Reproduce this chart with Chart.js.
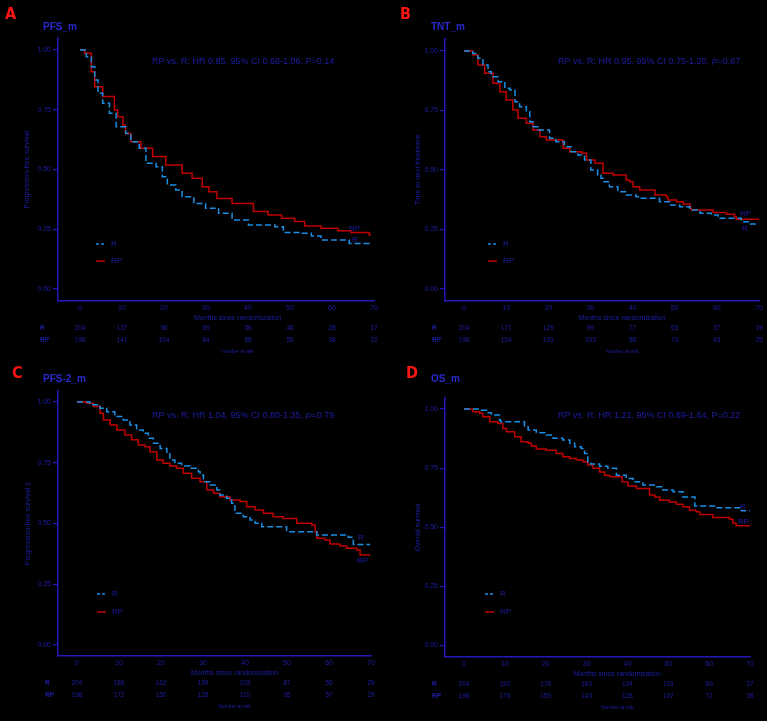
<!DOCTYPE html>
<html><head><meta charset="utf-8">
<script src="https://cdn.jsdelivr.net/npm/chart.js@4.4.1/dist/chart.umd.min.js"></script>
<style>
html,body{margin:0;padding:0;background:#000;width:767px;height:721px;overflow:hidden}
canvas{position:absolute;left:0;top:0}
.lbl{position:absolute;white-space:nowrap}
.letter{font:bold 16px/16px "Liberation Sans Narrow","DejaVu Sans Condensed",sans-serif;color:#ff1414}
.ttl{font:bold 10px/10px "Liberation Sans",Arial,sans-serif;color:#2a2acc}
</style></head><body>
<canvas id="c0" width="767" height="721"></canvas>
<canvas id="c1" width="767" height="721"></canvas>
<canvas id="c2" width="767" height="721"></canvas>
<canvas id="c3" width="767" height="721"></canvas>
<div class="lbl letter" style="left:5px;top:6px">A</div>
<div class="lbl letter" style="left:400px;top:6px">B</div>
<div class="lbl letter" style="left:12px;top:365px">C</div>
<div class="lbl letter" style="left:406px;top:365px">D</div>
<div class="lbl ttl" style="left:43px;top:22px">PFS_m</div>
<div class="lbl ttl" style="left:431px;top:22px">TNT_m</div>
<div class="lbl ttl" style="left:43px;top:374px">PFS-2_m</div>
<div class="lbl ttl" style="left:431px;top:374px">OS_m</div>
<script>
// ---------- data ----------
const XT = [0, 10, 20, 30, 40, 50, 60, 70];
const YT = [0, 0.25, 0.5, 0.75, 1];

// A: PFS
const A_R_t  = [0,1.5,2.7,3.5,4.3,5.4,7.0,8.6,10.9,12.1,14.1,15.7,18.1,19.6,20.8,22.8,24.3,27.1,29.9,33.0,36.2,40.1,46.4,48.4,52.7,55.1,57.4,64.1,69.3];
const A_R_s  = [1,0.972,0.930,0.874,0.819,0.777,0.735,0.679,0.651,0.616,0.589,0.526,0.512,0.470,0.435,0.414,0.386,0.358,0.338,0.317,0.289,0.268,0.261,0.237,0.233,0.222,0.205,0.191,0.186];
const A_RP_t = [0,1.1,2.7,3.5,5.4,8.2,9.0,10.2,10.8,12.1,14.5,17.3,20.4,24.3,26.7,29.1,30.7,32.6,36.2,41.3,44.8,48.0,51.1,53.5,57.4,61.4,64.5,68.9,69.3];
const A_RP_s = [1,0.986,0.909,0.846,0.805,0.749,0.721,0.686,0.651,0.616,0.589,0.554,0.519,0.484,0.463,0.428,0.407,0.379,0.358,0.324,0.310,0.296,0.282,0.264,0.254,0.244,0.236,0.226,0.226];
const A_risk_R  = [204,137,96,69,56,46,28,17];
const A_risk_RP = [198,141,104,84,68,55,38,22];

// B: TNT
const B_R_t  = [0,2.1,3.3,4.5,5.7,6.5,8.1,9.7,10.9,12.1,13.2,14.8,15.6,16.4,17.6,20.3,21.8,23.8,25.4,27.0,28.6,30.1,31.7,32.5,33.0,34.5,36.5,38.5,40.8,41.7,46.4,48.8,51.2,53.6,56.0,58.7,60.3,65.8,67.8,70];
const B_R_s  = [1,0.989,0.969,0.941,0.913,0.892,0.871,0.843,0.836,0.787,0.766,0.745,0.703,0.682,0.668,0.633,0.619,0.598,0.577,0.563,0.542,0.500,0.479,0.465,0.451,0.430,0.409,0.395,0.388,0.381,0.367,0.353,0.346,0.332,0.318,0.311,0.297,0.283,0.273,0.273];
const B_RP_t = [0,2.1,3.3,4.9,6.9,8.5,10.0,11.6,12.8,14.8,16.4,18.0,19.5,23.5,25.1,27.9,29.1,31.1,33.0,35.4,38.5,39.3,40.1,41.7,45.3,48.0,48.4,50.4,52.0,53.6,54.0,59.1,62.3,64.2,64.6,70];
const B_RP_s = [1,0.983,0.941,0.906,0.864,0.829,0.794,0.752,0.717,0.696,0.668,0.640,0.626,0.591,0.577,0.570,0.542,0.528,0.486,0.479,0.458,0.451,0.430,0.416,0.395,0.388,0.374,0.367,0.357,0.339,0.332,0.322,0.314,0.304,0.293,0.293];
const B_risk_R  = [204,171,129,99,77,65,37,19];
const B_risk_RP = [198,154,123,103,88,70,43,25];

// C: PFS-2
const C_R_t  = [0,3.1,5.5,7.1,9.0,11.0,12.6,14.2,15.8,17.0,18.2,19.8,21.4,22.1,23.3,24.9,26.9,28.9,29.3,30.1,31.7,33.3,34.0,35.6,36.8,37.6,39.6,41.2,42.4,44.0,49.9,57.1,64.6,65.8,69.8];
const C_R_s  = [1,0.988,0.974,0.960,0.940,0.926,0.905,0.885,0.871,0.851,0.830,0.809,0.789,0.761,0.748,0.737,0.727,0.713,0.700,0.672,0.658,0.638,0.617,0.604,0.583,0.542,0.528,0.514,0.501,0.487,0.466,0.453,0.443,0.414,0.414];
const C_RP_t = [0,2.3,3.9,5.5,6.3,7.9,9.5,11.4,13.0,14.6,16.2,17.4,19.0,20.5,22.1,23.7,25.3,27.3,29.3,30.9,32.5,34.0,36.4,38.8,40.4,42.4,44.4,46.7,49.1,52.3,55.9,56.7,57.1,59.0,60.2,62.6,64.2,66.6,67.4,69.8];
const C_RP_s = [1,0.995,0.981,0.953,0.926,0.905,0.885,0.864,0.844,0.823,0.816,0.795,0.761,0.748,0.737,0.727,0.707,0.686,0.672,0.638,0.624,0.610,0.597,0.590,0.569,0.556,0.542,0.528,0.521,0.501,0.494,0.466,0.439,0.432,0.416,0.407,0.398,0.391,0.370,0.370];
const C_risk_R  = [204,189,162,139,103,87,55,29];
const C_risk_RP = [198,172,150,128,110,95,57,29];

// D: OS
const D_R_t  = [0,3.8,5.5,6.7,8.7,9.0,14.8,15.7,17.7,20.1,21.8,24.2,25.9,27.1,28.7,29.5,30.3,31.0,33.2,35.2,37.3,39.7,41.4,43.8,47.1,48.7,51.2,53.6,56.5,61.7,67.9,70];
const D_R_s  = [1,0.995,0.985,0.975,0.953,0.946,0.925,0.911,0.900,0.890,0.876,0.869,0.855,0.840,0.833,0.812,0.777,0.767,0.758,0.749,0.720,0.706,0.692,0.678,0.671,0.657,0.650,0.628,0.590,0.582,0.569,0.569];
const D_RP_t = [0,2.2,3.8,4.6,6.3,8.3,9.5,10.4,12.4,14.0,15.7,16.5,17.7,20.1,22.6,24.2,25.9,27.5,29.1,30.3,31.6,33.2,34.4,35.7,38.7,40.1,42.2,45.4,46.7,47.9,50.3,52.0,53.6,55.2,56.8,57.7,60.9,65.0,65.8,66.6,70];
const D_RP_s = [1,0.989,0.982,0.968,0.946,0.939,0.918,0.904,0.883,0.862,0.855,0.844,0.831,0.826,0.812,0.798,0.791,0.784,0.777,0.763,0.749,0.734,0.720,0.713,0.692,0.674,0.664,0.636,0.628,0.614,0.607,0.597,0.586,0.572,0.565,0.554,0.541,0.533,0.516,0.506,0.506];
const D_risk_R  = [204,192,176,160,134,113,89,37];
const D_risk_RP = [198,178,159,143,128,107,72,38];

// ---------- style ----------
const TXT = '#1e1ea6';
const AX = '#2418b8';
const BLUE = '#1a8fe6';
const RED = '#c00000';
const FF = '"Liberation Sans", Arial, sans-serif';

const panels = [
  {id:'c0', Rt:A_R_t, Rs:A_R_s, Pt:A_RP_t, Ps:A_RP_s, riskR:A_risk_R, riskP:A_risk_RP,
   ytitle:'Progression-free survival', box:{l:58,r:374,t:38,b:301}, xmin:-5.24, ymin:-0.05, ymax:1.05, ytPad:4.8,
   ann:{x:152,y:62,seg:[['RP vs. R: HR 0.85, 95% CI 0.68-1.06, P=0.14',false]]},
   leg:{x:96,y:244,dy:17}, endR:{x:352,y:240}, endP:{x:349,y:229}, rowX:40},
  {id:'c1', Rt:B_R_t, Rs:B_R_s, Pt:B_RP_t, Ps:B_RP_s, riskR:B_risk_R, riskP:B_risk_RP,
   ytitle:'Time to next treatment', box:{l:445,r:759,t:39,b:301}, xmin:-4.51, ymin:-0.05, ymax:1.05, ytPad:8.8,
   ann:{x:558,y:62,seg:[['RP vs. R: HR 0.95, 95% CI 0.75-1.20, ',false],['P',true],['=0.67',false]]},
   leg:{x:488,y:244,dy:17}, endR:{x:742,y:229}, endP:{x:740,y:214}, rowX:432},
  {id:'c2', Rt:C_R_t, Rs:C_R_s, Pt:C_RP_t, Ps:C_RP_s, riskR:C_risk_R, riskP:C_risk_RP,
   ytitle:'Progression-free survival 2', box:{l:58,r:371,t:391,b:656}, xmin:-4.52, ymin:-0.045, ymax:1.045, ytPad:5.8,
   ann:{x:152,y:416,seg:[['RP vs. R: HR 1.04, 95% CI 0.80-1.35, ',false],['P',true],['=0.79',false]]},
   leg:{x:97,y:594,dy:18}, endR:{x:358,y:538}, endP:{x:357,y:561}, rowX:45},
  {id:'c3', Rt:D_R_t, Rs:D_R_s, Pt:D_RP_t, Ps:D_RP_s, riskR:D_risk_R, riskP:D_risk_RP,
   ytitle:'Overall survival', box:{l:445,r:750,t:398,b:657}, xmin:-4.65, ymin:-0.05, ymax:1.047, ytPad:8.8,
   ann:{x:558,y:416,seg:[['RP vs. R: HR 1.21, 95% CI 0.89-1.64, P=0.22',false]]},
   leg:{x:485,y:594,dy:18}, endR:{x:740,y:507}, endP:{x:738,y:522}, rowX:432}
];

const YW = 40, XH = 20;
const zip = (t, s) => t.map((v, i) => ({x: v, y: s[i]}));

panels.forEach(p => {
  const deco = {
    id: 'deco' + p.id,
    afterDraw(chart) {
      const ctx = chart.ctx, xs = chart.scales.x, b = p.box.b;
      ctx.save();
      ctx.fillStyle = TXT;
      ctx.textBaseline = 'middle';
      // annotation
      let ax = p.ann.x;
      ctx.textAlign = 'left';
      p.ann.seg.forEach(([t, it]) => {
        ctx.font = (it ? 'italic ' : '') + '9px ' + FF;
        ctx.fillText(t, ax, p.ann.y);
        ax += ctx.measureText(t).width;
      });
      // legend
      ctx.lineWidth = 1.5;
      ctx.strokeStyle = BLUE; ctx.setLineDash([3, 2]);
      ctx.beginPath(); ctx.moveTo(p.leg.x, p.leg.y); ctx.lineTo(p.leg.x + 9, p.leg.y); ctx.stroke();
      ctx.strokeStyle = RED; ctx.setLineDash([]);
      ctx.beginPath(); ctx.moveTo(p.leg.x, p.leg.y + p.leg.dy); ctx.lineTo(p.leg.x + 9, p.leg.y + p.leg.dy); ctx.stroke();
      ctx.font = '8px ' + FF;
      ctx.fillText('R', p.leg.x + 15, p.leg.y);
      ctx.fillText('RP', p.leg.x + 15, p.leg.y + p.leg.dy);
      // end labels
      ctx.fillText('R', p.endR.x, p.endR.y);
      ctx.fillText('RP', p.endP.x, p.endP.y);
      // x title
      ctx.textAlign = 'center';
      ctx.font = '7px ' + FF;
      const cx = xs.getPixelForValue(37.5);
      ctx.fillText('Months since randomization', cx, b + 17);
      // risk table
      ctx.font = '6.5px ' + FF;
      XT.forEach((v, i) => {
        const x = xs.getPixelForValue(v);
        ctx.fillText(String(p.riskR[i]), x, b + 27);
        ctx.fillText(String(p.riskP[i]), x, b + 39);
      });
      ctx.textAlign = 'left';
      ctx.font = 'bold 6.5px ' + FF;
      ctx.fillText('R', p.rowX, b + 27);
      ctx.fillText('RP', p.rowX, b + 39);
      ctx.textAlign = 'center';
      ctx.font = '5px ' + FF;
      ctx.fillText('Number at risk', cx, b + 51);
      ctx.restore();
    }
  };

  new Chart(document.getElementById(p.id), {
    type: 'line',
    data: {
      datasets: [
        {label: 'R', data: zip(p.Rt, p.Rs), borderColor: BLUE, borderDash: [6, 3], borderWidth: 1.5,
         stepped: 'before', pointRadius: 0, fill: false},
        {label: 'RP', data: zip(p.Pt, p.Ps), borderColor: RED, borderWidth: 1.5,
         stepped: 'before', pointRadius: 0, fill: false}
      ]
    },
    options: {
      responsive: false, animation: false, devicePixelRatio: 1,
      layout: {padding: {left: p.box.l - YW, top: p.box.t, right: 767 - p.box.r, bottom: 721 - p.box.b - XH}},
      plugins: {legend: {display: false}, tooltip: {enabled: false}},
      scales: {
        x: {
          type: 'linear', min: p.xmin, max: 70,
          afterBuildTicks: s => { s.ticks = XT.map(v => ({value: v})); },
          afterFit: s => { s.height = XH; },
          ticks: {color: TXT, font: {size: 7, family: FF}, padding: 3, autoSkip: false, maxRotation: 0,
                  callback: v => String(v)},
          grid: {display: false, drawTicks: false},
          border: {display: true, color: AX, width: 1.5}
        },
        y: {
          type: 'linear', min: p.ymin, max: p.ymax,
          afterBuildTicks: s => { s.ticks = YT.map(v => ({value: v})); },
          afterFit: s => { s.width = YW; },
          ticks: {color: TXT, font: {size: 7, family: FF}, padding: 2, callback: v => Number(v).toFixed(2)},
          grid: {display: true, drawOnChartArea: false, drawTicks: true, tickLength: 5, color: AX, lineWidth: 1.2},
          border: {display: true, color: AX, width: 1.5},
          title: {display: true, text: p.ytitle, color: TXT, font: {size: 7, family: FF}, padding: {top: p.ytPad, bottom: 0}}
        }
      }
    },
    plugins: [deco]
  });
});
</script>
</body></html>
